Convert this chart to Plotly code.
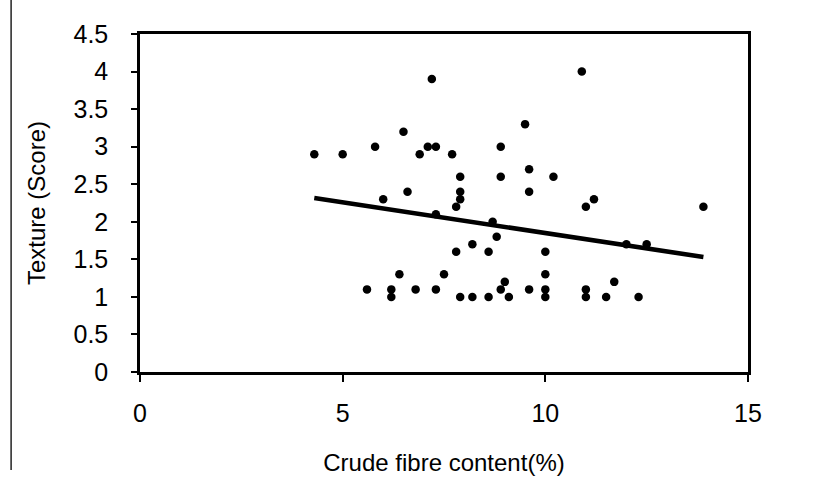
import plotly.graph_objects as go

# Crude fibre content (%) and texture score of each sample
crude_fibre = [4.3, 5.0, 5.6, 5.8, 6.0, 6.2, 6.2, 6.4, 6.5, 6.6, 6.8, 6.9, 7.1, 7.2,
               7.3, 7.3, 7.3, 7.5, 7.7, 7.8, 7.8, 7.9, 7.9, 7.9, 7.9, 8.2, 8.2, 8.6,
               8.6, 8.7, 8.8, 8.9, 8.9, 8.9, 9.0, 9.1, 9.5, 9.6, 9.6, 9.6, 10.0, 10.0,
               10.0, 10.0, 10.2, 10.9, 11.0, 11.0, 11.0, 11.2, 11.5, 11.7, 12.0, 12.3,
               12.5, 13.9]
texture = [2.9, 2.9, 1.1, 3.0, 2.3, 1.1, 1.0, 1.3, 3.2, 2.4, 1.1, 2.9, 3.0, 3.9,
           3.0, 2.1, 1.1, 1.3, 2.9, 2.2, 1.6, 2.6, 2.4, 2.3, 1.0, 1.7, 1.0, 1.6,
           1.0, 2.0, 1.8, 3.0, 2.6, 1.1, 1.2, 1.0, 3.3, 2.7, 2.4, 1.1, 1.6, 1.3,
           1.1, 1.0, 2.6, 4.0, 2.2, 1.1, 1.0, 2.3, 1.0, 1.2, 1.7, 1.0, 1.7, 2.2]

# Linear trend line (texture = intercept + slope * fibre)
trend_slope = -0.082
trend_intercept = 2.67

x_ticks = [0, 5, 10, 15]
y_ticks = [0, 0.5, 1, 1.5, 2, 2.5, 3, 3.5, 4, 4.5]

trend_x = [min(crude_fibre), max(crude_fibre)]
trend_y = [trend_intercept + trend_slope * v for v in trend_x]

FONT = "Arial, Liberation Sans, sans-serif"

fig = go.Figure()
fig.add_trace(go.Scatter(
    x=crude_fibre, y=texture, mode="markers",
    marker=dict(color="black", size=8.5),
    showlegend=False,
))
fig.add_trace(go.Scatter(
    x=trend_x, y=trend_y, mode="lines",
    line=dict(color="black", width=4.5),
    showlegend=False,
))

fig.update_layout(
    width=817, height=478,
    margin=dict(l=140, r=69, t=34, b=106),
    paper_bgcolor="white", plot_bgcolor="white",
    font=dict(family=FONT, color="black", size=24),
    xaxis=dict(
        range=[0, 15], tickvals=x_ticks, ticktext=[str(v) for v in x_ticks],
        showgrid=False, zeroline=False, automargin=False,
        showline=True, linecolor="black", linewidth=2.5, mirror=True,
        ticks="outside", ticklen=7, tickwidth=2, tickcolor="black",
        tickfont=dict(size=25), ticklabelstandoff=10,
        title=dict(text="Crude fibre content(%)", font=dict(size=24), standoff=29),
    ),
    yaxis=dict(
        range=[0, 4.5], tickvals=y_ticks, ticktext=[f"{v:g}" for v in y_ticks],
        showgrid=False, zeroline=False, automargin=False,
        showline=True, linecolor="black", linewidth=2.5, mirror=True,
        ticks="outside", ticklen=6, tickwidth=2, tickcolor="black",
        tickfont=dict(size=25), ticklabelstandoff=18,
        title=dict(text="Texture (Score)", font=dict(size=24), standoff=22),
    ),
    shapes=[
        # thin rule along the left edge of the page
        dict(type="line", xref="paper", yref="paper",
             x0=-0.212, x1=-0.212, y0=1.11, y1=-0.29,
             line=dict(color="#222222", width=1.5)),
    ],
)

fig.write_html("out.html")
